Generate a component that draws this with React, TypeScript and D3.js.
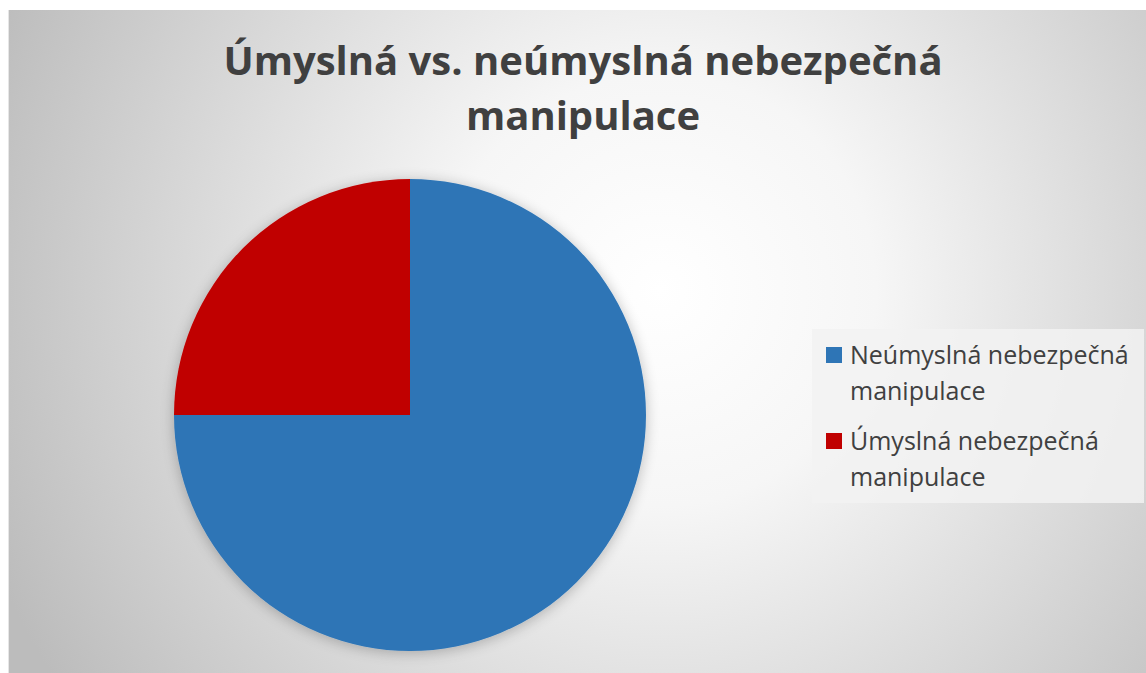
import React from 'react';
import * as d3 from 'd3';

const categories = ['Neúmyslná nebezpečná manipulace', 'Úmyslná nebezpečná manipulace'];
const values = [75, 25];
const colors = ['#2e75b6', '#c00000'];
const legendLines = [['Neúmyslná nebezpečná', 'manipulace'], ['Úmyslná nebezpečná', 'manipulace']];
const titleLines = ['Úmyslná vs. neúmyslná nebezpečná', 'manipulace'];

const W = 1146;
const H = 673;

const App: React.FC = () => {
  const cx = 410;
  const cy = 415;
  const r = 236;

  const pie = d3.pie<number>().sort(null).value(d => d);
  const arcs = pie(values);
  const arc = d3.arc<d3.PieArcDatum<number>>().innerRadius(0).outerRadius(r);

  return (
    <div style={{ position: 'absolute', left: 0, top: 0 }}>
      <svg width={W} height={H} style={{ display: 'block' }}>
        <defs>
          <radialGradient id="bg" gradientUnits="userSpaceOnUse" cx={660} cy={290} r={720}>
            <stop offset="0" stopColor="#ffffff" />
            <stop offset="0.3" stopColor="#f6f6f6" />
            <stop offset="1" stopColor="#bcbcbc" />
          </radialGradient>
          <filter id="shadow" x="-20%" y="-20%" width="140%" height="140%">
            <feGaussianBlur in="SourceAlpha" stdDeviation="7" />
            <feOffset dx="0" dy="2" result="blur" />
            <feComponentTransfer>
              <feFuncA type="linear" slope="0.25" />
            </feComponentTransfer>
            <feMerge>
              <feMergeNode />
              <feMergeNode in="SourceGraphic" />
            </feMerge>
          </filter>
        </defs>
        <rect x={0} y={0} width={W} height={H} fill="#ffffff" />
        <rect x={8} y={10} width={W - 8} height={H - 10} fill="url(#bg)" />
        <line x1={8.5} y1={10} x2={8.5} y2={H} stroke="#e6e6e6" />

        <g fontFamily="'Open Sans', sans-serif" fill="#404040">
          {titleLines.map((t, i) => (
            <text key={i} x={583} y={75 + i * 55} textAnchor="middle" fontSize={40} fontWeight="bold">
              {t}
            </text>
          ))}
        </g>

        <g transform={`translate(${cx},${cy})`} filter="url(#shadow)">
          {arcs.map((a, i) => (
            <path key={categories[i]} d={arc(a) || ''} fill={colors[i]} />
          ))}
        </g>

        <rect x={812} y={329} width={332} height={174} fill="#f2f2f2" opacity={0.85} />
        <g fontFamily="'Open Sans', sans-serif" fill="#404040" fontSize={25}>
          {legendLines.map((lines, i) => (
            <g key={i} transform={`translate(0,${i * 86})`}>
              <rect x={826} y={347} width={16} height={16} fill={colors[i]} />
              {lines.map((l, j) => (
                <text key={j} x={850} y={364 + j * 36}>
                  {l}
                </text>
              ))}
            </g>
          ))}
        </g>
      </svg>
    </div>
  );
};

export default App;
